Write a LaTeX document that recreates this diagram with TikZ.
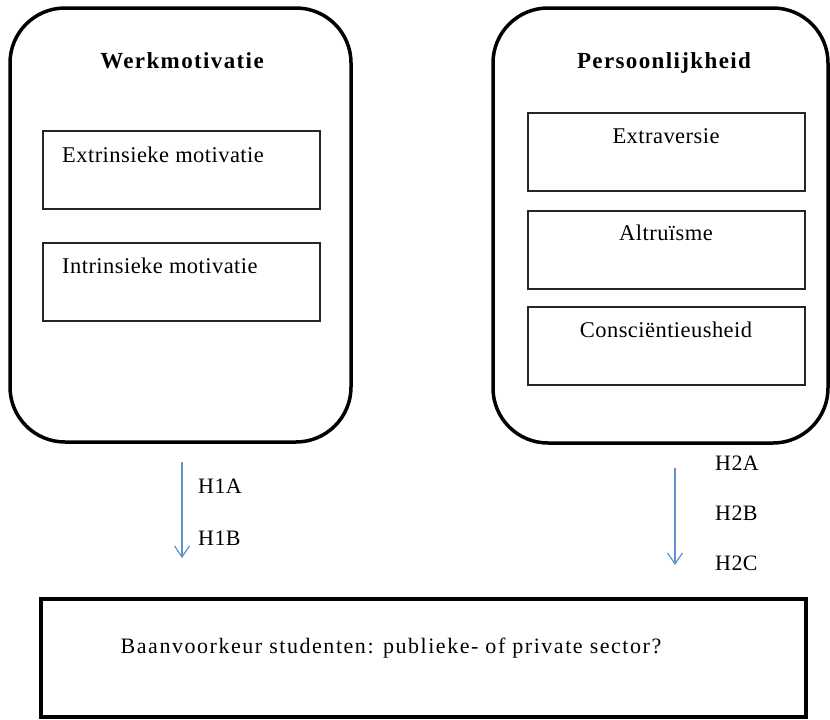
\documentclass[tikz,border=0pt]{standalone}
\usepackage{fontspec}
\setmainfont{Liberation Serif}
\newfontfamily\tightsp[LetterSpace=2]{Liberation Serif}
\newfontfamily\midsp[LetterSpace=6]{Liberation Serif}
\newfontfamily\widesp[LetterSpace=7]{Liberation Serif}
\usetikzlibrary{arrows.meta}
\definecolor{arrblue}{RGB}{95,145,205}
\tikzset{
  bigbox/.style={draw=black, line width=3.5pt, rounded corners=55pt, inner sep=0pt},
  innerbox/.style={draw=black!85, line width=1.3pt, inner sep=0pt, minimum width=277pt, minimum height=78pt},
  bottombox/.style={draw=black, line width=4pt, inner sep=0pt, minimum width=765pt, minimum height=118pt},
  title/.style={font=\midsp\bfseries\fontsize{23}{26}\selectfont, inner sep=0pt, anchor=base},
  itemtxt/.style={font=\tightsp\fontsize{22.5}{26}\selectfont, inner sep=0pt, anchor=base},
  hlabel/.style={font=\tightsp\fontsize{22}{26}\selectfont, inner sep=0pt, anchor=base west},
  hyparrow/.style={draw=arrblue, line width=1.2pt, -{Straight Barb[length=11pt,width=15pt,line width=1.2pt]}}
}
\begin{document}
\begin{tikzpicture}[x=1pt,y=-1pt]
\useasboundingbox (0,0) rectangle (830,720);
% big boxes
\node[bigbox, minimum width=341pt, minimum height=434pt] (wm) at (180.5,225) {};
\node[bigbox, minimum width=335pt, minimum height=435pt] (ps) at (660.5,225.5) {};
% titles
\node[title] (wmt) at (182,68) {Werkmotivatie};
\node[title] (pst) at (664,68) {Persoonlijkheid};
% left inner boxes
\node[innerbox] (ext) at (181.5,170) {};
\node[innerbox] (int) at (181.5,282) {};
\node[itemtxt, anchor=base west] (extt) at (62,162) {Extrinsieke motivatie};
\node[itemtxt, anchor=base west] (intt) at (62,273) {Intrinsieke motivatie};
% right inner boxes
\node[innerbox] (extr) at (666.5,152) {};
\node[innerbox] (alt) at (666.5,250) {};
\node[innerbox] (con) at (666.5,346) {};
\node[itemtxt] (extrt) at (666,143) {Extraversie};
\node[itemtxt] (altt) at (666,240) {Altruïsme};
\node[itemtxt] (cont) at (666,337) {Consciëntieusheid};
% bottom box
\node[bottombox] (bv) at (423.5,658) {};
\node[font=\widesp\fontsize{22}{26}\selectfont, inner sep=0pt, anchor=base] (bvt) at (391,653) {Baanvoorkeur studenten: publieke- of private sector?};
% arrows
\coordinate (a1s) at (182,462);
\coordinate (a1e) at (182,558);
\coordinate (a2s) at (675,468);
\coordinate (a2e) at (675,565);
\draw[hyparrow] (a1s) -- (a1e);
\draw[hyparrow] (a2s) -- (a2e);
% labels
\node[hlabel] (h1a) at (198,493) {H1A};
\node[hlabel] (h1b) at (198,545) {H1B};
\node[hlabel] (h2a) at (715,470) {H2A};
\node[hlabel] (h2b) at (715,520) {H2B};
\node[hlabel] (h2c) at (715,570) {H2C};
\end{tikzpicture}
\end{document}
